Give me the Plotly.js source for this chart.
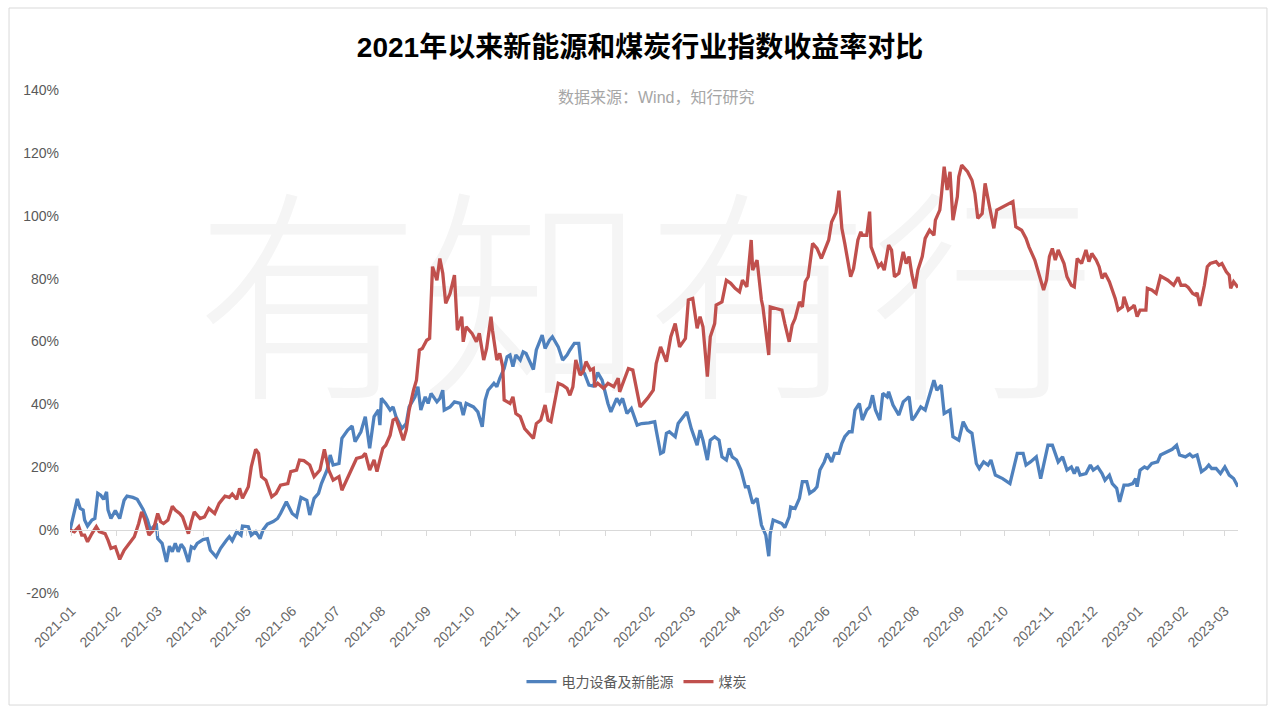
<!DOCTYPE html>
<html><head><meta charset="utf-8">
<script src="https://cdn.plot.ly/plotly-3.0.1.min.js"></script>
<style>html,body{margin:0;padding:0;background:#fff;}#chart{width:1280px;height:718px;}</style>
</head><body><div id="chart"></div>
<script>
const chartTitle = "2021年以来新能源和煤炭行业指数收益率对比";
const sourceNote = "数据来源：Wind，知行研究";
const watermarkText = "有知有行";
const seriesNames = ["电力设备及新能源", "煤炭"];
const yTicks = [-20, 0, 20, 40, 60, 80, 100, 120, 140];
const yTickLabels = ["-20%", "0%", "20%", "40%", "60%", "80%", "100%", "120%", "140%"];

const newEnergy = [
["2020-12-31",0],["2021-01-04",7.2],["2021-01-05",9.9],["2021-01-07",6.9],["2021-01-09",6.4],["2021-01-10",3.2],["2021-01-12",1.3],["2021-01-15",3.2],["2021-01-17",3.7],["2021-01-19",11.7],["2021-01-21",11.1],["2021-01-23",9.8],["2021-01-25",12.2],["2021-01-26",6.4],["2021-01-28",3.7],["2021-01-31",6.2],
["2021-02-03",3.7],["2021-02-06",9.5],["2021-02-08",10.8],["2021-02-12",10.4],["2021-02-15",9.8],["2021-02-19",6.6],["2021-02-22",3.2],["2021-02-24",0],["2021-02-28",2.1],
["2021-03-01",-2.7],["2021-03-04",-4.2],["2021-03-07",-10.1],["2021-03-09",-5.1],["2021-03-11",-6.9],["2021-03-13",-4.2],["2021-03-15",-6.9],["2021-03-17",-4.5],["2021-03-19",-5.8],["2021-03-22",-10.1],["2021-03-24",-5.3],["2021-03-26",-5.8],["2021-03-28",-4.2],
["2021-04-01",-3.0],["2021-04-04",-2.7],["2021-04-06",-6.4],["2021-04-10",-8.5],["2021-04-13",-5.8],["2021-04-17",-3.2],["2021-04-19",-2.1],["2021-04-21",-3.4],["2021-04-24",-0.5],["2021-04-27",-1.6],["2021-04-28",1.3],
["2021-05-02",1.1],["2021-05-04",-1.6],["2021-05-07",-0.5],["2021-05-10",-2.7],["2021-05-12",0],["2021-05-15",1.9],["2021-05-19",2.7],["2021-05-22",3.7],["2021-05-24",5.3],["2021-05-28",9.0],
["2021-06-01",5.3],["2021-06-04",4.2],["2021-06-07",10.4],["2021-06-11",9.5],["2021-06-13",4.8],["2021-06-16",10.1],["2021-06-19",11.7],["2021-06-21",14.8],["2021-06-25",19.3],["2021-06-27",23.9],["2021-06-29",20.7],
["2021-07-03",21.2],["2021-07-05",29.2],["2021-07-09",31.8],["2021-07-12",33.1],["2021-07-14",28.1],["2021-07-18",31.3],["2021-07-21",36.1],["2021-07-24",26.0],["2021-07-27",36.1],["2021-07-30",38.2],["2021-07-31",33.4],
["2021-08-01",41.9],["2021-08-04",40.3],["2021-08-07",38.2],["2021-08-09",39.2],["2021-08-11",36.1],["2021-08-15",32.3],["2021-08-18",33.9],["2021-08-20",39.2],["2021-08-24",42.4],["2021-08-26",45.6],["2021-08-28",38.2],["2021-08-31",42.4],
["2021-09-02",40.3],["2021-09-04",43.5],["2021-09-08",40.8],["2021-09-10",41.9],["2021-09-12",44.5],["2021-09-13",38.2],["2021-09-17",39.2],["2021-09-20",40.8],["2021-09-24",40.3],["2021-09-26",36.6],["2021-09-28",40.3],
["2021-10-03",39.2],["2021-10-06",37.6],["2021-10-09",32.9],["2021-10-11",41.4],["2021-10-13",44.5],["2021-10-17",46.7],["2021-10-19",45.6],["2021-10-21",48.3],["2021-10-24",51.4],["2021-10-26",55.1],["2021-10-28",55.7],["2021-10-30",52.0],
["2021-11-01",55.7],["2021-11-04",54.1],["2021-11-06",56.7],["2021-11-08",56.2],["2021-11-10",54.1],["2021-11-13",51.1],["2021-11-15",57.3],["2021-11-17",59.9],["2021-11-19",62.0],["2021-11-21",57.8],["2021-11-24",60.4],["2021-11-26",61.5],["2021-11-30",58.3],
["2021-12-03",54.1],["2021-12-06",55.7],["2021-12-08",57.3],["2021-12-11",59.4],["2021-12-14",59.4],["2021-12-16",50.9],["2021-12-18",49.8],["2021-12-21",46.1],["2021-12-24",45.8],["2021-12-27",50.1],["2021-12-30",47.7],
["2022-01-01",43.5],["2022-01-03",40.3],["2022-01-05",37.6],["2022-01-09",41.9],["2022-01-11",40.3],["2022-01-13",41.9],["2022-01-16",37.1],["2022-01-19",38.7],["2022-01-23",33.4],["2022-01-26",33.9],["2022-01-31",34.1],
["2022-02-04",34.5],["2022-02-05",31.8],["2022-02-08",24.4],["2022-02-10",24.9],["2022-02-12",30.8],["2022-02-14",31.3],["2022-02-18",29.7],["2022-02-20",33.9],["2022-02-24",36.6],["2022-02-26",37.6],
["2022-03-01",32.3],["2022-03-05",27.0],["2022-03-07",31.8],["2022-03-09",28.6],["2022-03-12",22.3],["2022-03-14",28.6],["2022-03-17",29.7],["2022-03-20",28.6],["2022-03-22",23.3],["2022-03-25",22.3],["2022-03-27",26.0],["2022-03-29",23.3],
["2022-04-01",22.3],["2022-04-04",19.1],["2022-04-07",13.8],["2022-04-09",13.8],["2022-04-12",8.5],["2022-04-15",10.1],["2022-04-18",1.6],["2022-04-21",-1.6],["2022-04-23",-8.3],["2022-04-24",-1.1],["2022-04-26",3.2],["2022-04-29",2.7],
["2022-05-02",2.1],["2022-05-04",0.8],["2022-05-07",4.2],["2022-05-08",7.4],["2022-05-11",6.9],["2022-05-14",10.1],["2022-05-16",15.4],["2022-05-19",15.4],["2022-05-21",11.7],["2022-05-24",12.7],["2022-05-26",13.8],["2022-05-28",19.1],["2022-05-31",21.7],
["2022-06-02",24.4],["2022-06-05",21.7],["2022-06-07",24.4],["2022-06-10",24.4],["2022-06-12",27.6],["2022-06-14",29.7],["2022-06-17",31.3],["2022-06-19",31.3],["2022-06-21",38.2],["2022-06-24",40.3],["2022-06-26",35.0],["2022-06-29",38.2],
["2022-07-01",39.2],["2022-07-03",42.9],["2022-07-05",38.2],["2022-07-08",35.0],["2022-07-10",43.5],["2022-07-13",42.4],["2022-07-14",44.0],["2022-07-17",39.8],["2022-07-21",36.6],["2022-07-24",40.8],["2022-07-28",42.4],["2022-07-30",35.0],
["2022-08-01",36.1],["2022-08-05",39.2],["2022-08-08",38.2],["2022-08-11",42.9],["2022-08-14",47.7],["2022-08-16",44.5],["2022-08-19",46.1],["2022-08-21",37.1],["2022-08-25",38.2],["2022-08-27",29.7],["2022-08-31",28.6],
["2022-09-03",34.5],["2022-09-06",31.8],["2022-09-09",30.8],["2022-09-12",21.2],["2022-09-14",19.6],["2022-09-17",21.7],["2022-09-20",20.7],["2022-09-22",22.3],["2022-09-25",17.5],["2022-09-30",16.4],
["2022-10-05",14.8],["2022-10-08",20.1],["2022-10-10",24.4],["2022-10-14",24.4],["2022-10-16",20.7],["2022-10-19",21.7],["2022-10-23",23.3],["2022-10-26",16.4],["2022-10-29",22.3],["2022-10-31",27.0],
["2022-11-03",27.0],["2022-11-05",24.4],["2022-11-07",21.7],["2022-11-10",23.3],["2022-11-12",20.7],["2022-11-13",19.1],["2022-11-16",20.1],["2022-11-18",18.0],["2022-11-20",20.1],["2022-11-22",17.5],["2022-11-26",18.0],["2022-11-29",20.7],
["2022-12-01",19.1],["2022-12-04",20.1],["2022-12-07",18.0],["2022-12-09",15.9],["2022-12-12",17.5],["2022-12-14",14.8],["2022-12-17",13.3],["2022-12-19",9.0],["2022-12-22",14.3],["2022-12-25",14.3],["2022-12-28",14.8],["2022-12-30",16.4],["2022-12-31",13.8],
["2023-01-02",19.1],["2023-01-05",20.1],["2023-01-07",19.6],["2023-01-10",21.2],["2023-01-14",21.7],["2023-01-16",23.9],["2023-01-21",24.9],["2023-01-24",25.7],["2023-01-27",27.0],["2023-01-29",23.9],
["2023-02-02",23.3],["2023-02-05",24.2],["2023-02-07",23.3],["2023-02-10",23.9],["2023-02-13",18.6],["2023-02-16",19.6],["2023-02-18",20.7],["2023-02-20",19.6],["2023-02-23",19.6],["2023-02-26",18.0],
["2023-03-01",20.1],["2023-03-04",17.5],["2023-03-07",16.4],["2023-03-09",14.8],["2023-03-10",13.8]
];

const coal = [
["2020-12-31",0],["2021-01-03",-0.5],["2021-01-06",1.1],["2021-01-08",-1.6],["2021-01-10",-1.6],["2021-01-12",-3.7],["2021-01-15",-1.1],["2021-01-18",1.1],["2021-01-20",-0.5],["2021-01-24",-1.1],["2021-01-26",-3.2],["2021-01-28",-5.8],["2021-01-31",-5.3],
["2021-02-03",-9.3],["2021-02-06",-6.4],["2021-02-09",-4.5],["2021-02-13",-2.1],["2021-02-16",2.1],["2021-02-18",5.8],["2021-02-20",3.7],["2021-02-23",-1.6],["2021-02-26",0],
["2021-03-01",5.3],["2021-03-03",2.7],["2021-03-05",2.1],["2021-03-08",3.2],["2021-03-11",7.6],["2021-03-13",6.4],["2021-03-16",5.3],["2021-03-18",4.2],["2021-03-22",-1.1],["2021-03-24",2.7],["2021-03-26",5.8],["2021-03-30",3.7],
["2021-04-02",4.2],["2021-04-05",6.9],["2021-04-09",5.3],["2021-04-12",8.5],["2021-04-16",10.8],["2021-04-19",10.4],["2021-04-21",11.5],["2021-04-24",9.8],["2021-04-26",13.3],["2021-04-28",10.1],
["2021-05-02",13.8],["2021-05-04",20.1],["2021-05-07",25.7],["2021-05-09",24.4],["2021-05-11",17.0],["2021-05-14",15.9],["2021-05-18",10.6],["2021-05-21",11.7],["2021-05-24",14.3],["2021-05-29",14.8],["2021-05-31",18.6],
["2021-06-04",19.1],["2021-06-06",22.3],["2021-06-09",22.1],["2021-06-13",20.7],["2021-06-16",17.0],["2021-06-20",19.1],["2021-06-23",25.7],["2021-06-26",19.1],["2021-06-29",15.9],
["2021-07-03",17.0],["2021-07-05",12.7],["2021-07-08",15.9],["2021-07-12",20.1],["2021-07-15",22.8],["2021-07-19",23.3],["2021-07-21",24.4],["2021-07-24",19.1],["2021-07-27",22.3],["2021-07-29",18.6],["2021-07-31",22.3],
["2021-08-02",26.0],["2021-08-04",27.0],["2021-08-07",30.2],["2021-08-09",35.0],["2021-08-11",35.5],["2021-08-13",32.9],["2021-08-16",28.6],["2021-08-18",31.8],["2021-08-20",38.2],["2021-08-23",44.5],["2021-08-25",47.7],["2021-08-27",57.3],["2021-08-29",57.8],
["2021-09-01",60.4],["2021-09-03",61.0],["2021-09-05",83.8],["2021-09-08",79.5],["2021-09-10",86.4],["2021-09-12",81.7],["2021-09-14",72.1],["2021-09-17",75.3],["2021-09-20",81.1],["2021-09-22",63.6],["2021-09-25",67.9],["2021-09-26",59.9],["2021-09-28",64.7],
["2021-10-02",62.6],["2021-10-05",59.9],["2021-10-07",62.6],["2021-10-10",54.1],["2021-10-12",57.8],["2021-10-15",67.9],["2021-10-16",63.6],["2021-10-19",54.1],["2021-10-21",56.2],["2021-10-23",52.0],["2021-10-24",41.4],["2021-10-28",40.3],["2021-10-30",42.4],
["2021-11-01",37.1],["2021-11-04",36.1],["2021-11-07",32.3],["2021-11-10",30.8],["2021-11-13",29.2],["2021-11-15",33.9],["2021-11-18",35.0],["2021-11-21",39.8],["2021-11-23",35.0],["2021-11-25",34.5],["2021-11-28",41.4],["2021-11-30",46.7],
["2021-12-03",46.1],["2021-12-06",45.1],["2021-12-08",42.9],["2021-12-10",45.6],["2021-12-12",54.1],["2021-12-15",49.3],["2021-12-17",50.4],["2021-12-19",53.6],["2021-12-22",50.9],["2021-12-24",51.4],["2021-12-25",45.6],["2021-12-27",46.7],["2021-12-31",45.1],
["2022-01-03",46.7],["2022-01-07",45.6],["2022-01-10",48.3],["2022-01-11",44.0],["2022-01-14",47.7],["2022-01-17",51.4],["2022-01-20",50.9],["2022-01-23",43.5],["2022-01-25",39.2],["2022-01-30",41.9],
["2022-02-03",44.5],["2022-02-05",53.0],["2022-02-08",58.3],["2022-02-12",53.6],["2022-02-15",61.5],["2022-02-18",65.7],["2022-02-21",58.3],["2022-02-25",61.0],["2022-02-27",73.2],
["2022-03-02",73.7],["2022-03-05",64.2],["2022-03-07",67.9],["2022-03-09",64.7],["2022-03-12",48.8],["2022-03-14",61.5],["2022-03-17",65.7],["2022-03-18",71.6],["2022-03-22",72.6],["2022-03-25",79.5],["2022-03-28",78.5],["2022-03-31",76.9],
["2022-04-03",75.8],["2022-04-05",79.5],["2022-04-08",77.4],["2022-04-11",92.3],["2022-04-12",82.7],["2022-04-15",85.9],["2022-04-18",73.2],["2022-04-19",71.0],["2022-04-23",55.7],["2022-04-24",71.0],["2022-04-28",70.5],
["2022-05-02",70.0],["2022-05-04",65.7],["2022-05-07",59.9],["2022-05-09",65.2],["2022-05-11",67.3],["2022-05-14",72.6],["2022-05-16",71.0],["2022-05-18",79.0],["2022-05-20",80.6],["2022-05-23",91.2],["2022-05-26",89.6],["2022-05-29",86.4],
["2022-06-03",92.3],["2022-06-05",98.0],["2022-06-08",101.0],["2022-06-10",108.0],["2022-06-12",96.0],["2022-06-14",91.2],["2022-06-18",80.6],["2022-06-20",83.2],["2022-06-23",92.3],["2022-06-25",94.9],["2022-06-26",93.8],["2022-06-29",93.8],
["2022-07-01",101.3],["2022-07-02",90.1],["2022-07-04",87.5],["2022-07-07",83.8],["2022-07-09",84.8],["2022-07-11",82.7],["2022-07-14",90.7],["2022-07-16",89.1],["2022-07-18",80.6],["2022-07-21",81.7],["2022-07-24",88.5],["2022-07-26",84.8],["2022-07-28",87.0],["2022-07-30",81.1],
["2022-08-01",76.9],["2022-08-03",82.7],["2022-08-06",87.0],["2022-08-08",92.8],["2022-08-11",95.4],["2022-08-14",93.8],["2022-08-15",98.6],["2022-08-18",101.8],["2022-08-19",106.0],["2022-08-21",115.6],["2022-08-23",108.2],["2022-08-25",114.0],["2022-08-27",98.6],["2022-08-30",106.0],["2022-08-31",112.4],
["2022-09-02",116.1],["2022-09-06",114.0],["2022-09-09",111.3],["2022-09-11",107.1],["2022-09-13",99.2],["2022-09-16",100.7],["2022-09-18",110.3],["2022-09-21",102.9],["2022-09-24",96.0],["2022-09-26",101.8],
["2022-10-01",102.9],["2022-10-07",104.5],["2022-10-09",96.5],["2022-10-13",95.4],["2022-10-16",92.8],["2022-10-18",90.1],["2022-10-22",85.9],["2022-10-24",82.7],["2022-10-28",76.4],["2022-10-30",79.5],
["2022-11-01",87.0],["2022-11-03",89.6],["2022-11-05",85.9],["2022-11-07",89.1],["2022-11-10",85.4],["2022-11-11",84.8],["2022-11-13",80.6],["2022-11-16",77.9],["2022-11-18",77.4],["2022-11-20",86.4],["2022-11-23",84.8],["2022-11-26",89.1],["2022-11-28",85.4],["2022-11-30",88.0],
["2022-12-03",85.9],["2022-12-05",83.8],["2022-12-07",80.1],["2022-12-09",81.7],["2022-12-12",79.0],["2022-12-14",76.4],["2022-12-16",73.7],["2022-12-18",70.0],["2022-12-21",71.0],["2022-12-22",74.2],["2022-12-25",70.0],["2022-12-28",71.0],["2022-12-29",71.6],["2022-12-31",67.9],
["2023-01-02",70.0],["2023-01-06",70.0],["2023-01-07",76.9],["2023-01-10",76.4],["2023-01-13",75.3],["2023-01-16",80.8],["2023-01-21",79.5],["2023-01-25",77.9],["2023-01-28",80.4],["2023-01-30",77.9],
["2023-02-02",77.9],["2023-02-04",77.2],["2023-02-07",75.3],["2023-02-09",74.8],["2023-02-10",75.5],["2023-02-12",71.3],["2023-02-15",77.9],["2023-02-17",83.8],["2023-02-19",84.8],["2023-02-23",85.4],["2023-02-25",84.3],["2023-02-27",84.8],
["2023-03-02",82.2],["2023-03-04",81.1],["2023-03-05",76.9],["2023-03-07",79.0],["2023-03-08",78.5],["2023-03-10",77.2]
];

const FONT = '"Liberation Sans", "Noto Sans CJK SC", sans-serif';
const xRange = [newEnergy[0][0], newEnergy[newEnergy.length - 1][0]];

const traces = [
  {type: 'scatter', mode: 'lines', name: seriesNames[0],
   x: newEnergy.map(p => p[0]), y: newEnergy.map(p => p[1]),
   line: {color: '#4F81BD', width: 3.3}, xaxis: 'x', yaxis: 'y', hoverinfo: 'skip'},
  {type: 'scatter', mode: 'lines', name: seriesNames[1],
   x: coal.map(p => p[0]), y: coal.map(p => p[1]),
   line: {color: '#C0504D', width: 3.3}, xaxis: 'x2', yaxis: 'y', hoverinfo: 'skip'}
];

const layout = {
  width: 1280, height: 718,
  margin: {l: 70, r: 42, t: 90, b: 125},
  paper_bgcolor: '#ffffff', plot_bgcolor: 'rgba(0,0,0,0)',
  font: {family: FONT, color: '#595959'},
  title: {text: chartTitle, x: 0.5, xanchor: 'center', xref: 'container',
          y: 1 - 47 / 718, yanchor: 'middle', yref: 'container',
          font: {family: FONT, size: 28, color: '#000000', weight: 'bold'}},
  xaxis: {type: 'date', range: xRange, tick0: '2021-01-01', dtick: 'M1', tickformat: '%Y-%m',
          tickangle: -45, showgrid: false, zeroline: false, showline: false, ticks: '',
          ticklabelstandoff: 6,
          tickfont: {family: FONT, size: 14, color: '#666666'}, fixedrange: true},
  xaxis2: {type: 'date', overlaying: 'x', matches: 'x', anchor: 'free', position: 0.125,
           tick0: '2021-01-01', dtick: 'M1', showgrid: false, zeroline: false,
           showline: true, linecolor: '#d9d9d9', linewidth: 1,
           ticks: 'outside', ticklen: 5, tickwidth: 1, tickcolor: '#d9d9d9', showticklabels: false},
  yaxis: {range: [yTicks[0], yTicks[yTicks.length - 1]], tickmode: 'array', tickvals: yTicks,
          ticktext: yTickLabels, showgrid: false, zeroline: false, showline: false, ticks: '',
          ticklabelstandoff: 10, tickfont: {family: FONT, size: 14, color: '#595959'}, fixedrange: true},
  showlegend: true,
  legend: {orientation: 'h', x: 0.485, xanchor: 'center', y: -0.177, yanchor: 'middle',
           font: {family: FONT, size: 14, color: '#595959'}, bgcolor: 'rgba(0,0,0,0)'},
  annotations: [
    {text: sourceNote, xref: 'paper', yref: 'paper', x: 0.502, y: 0.986,
     xanchor: 'center', yanchor: 'middle', showarrow: false,
     font: {family: FONT, size: 16, color: '#a6a6a6'}}
  ],
  shapes: [
    {type: 'rect', xref: 'paper', yref: 'paper', x0: 0, x1: 0.985, y0: 0.086, y1: 1.0,
     layer: 'below', line: {width: 0}, fillcolor: 'rgba(0,0,0,0)',
     label: {text: watermarkText, textposition: 'middle center',
             font: {family: '"Noto Sans CJK SC", sans-serif', size: 225, color: '#f5f5f5', weight: 300}}},
    {type: 'rect', xref: 'paper', yref: 'paper', x0: -0.0522, x1: 1.0248, y0: -0.2227, y1: 1.163,
     layer: 'below', line: {width: 1, color: '#d9d9d9'}, fillcolor: 'rgba(0,0,0,0)'}
  ]
};

Plotly.newPlot('chart', traces, layout, {displayModeBar: false, staticPlot: true});
</script>
</body></html>
